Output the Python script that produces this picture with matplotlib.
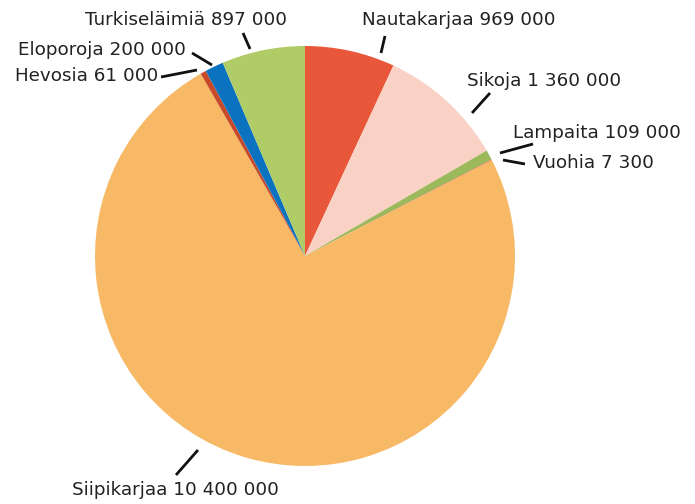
import matplotlib.pyplot as plt

# Kotieläimet Suomessa
labels = ["Nautakarjaa", "Sikoja", "Lampaita", "Vuohia", "Siipikarjaa",
          "Hevosia", "Eloporoja", "Turkiseläimiä"]
values = [969000, 1360000, 109000, 7300, 10400000, 61000, 200000, 897000]
value_labels = ["969 000", "1 360 000", "109 000", "7 300", "10 400 000",
                "61 000", "200 000", "897 000"]
colors = ["#E9573A", "#F9D2C5", "#9BB95A", "#E9573A", "#F7B966",
          "#C8492A", "#0A72BF", "#B0CC66"]

W, H = 695, 504
# label layout in pixels (x left, y centre), leader line ends (x0, y0, x1, y1)
text_pos = [(362, 20), (467, 81), (513, 133), (533, 163), (72, 490),
            (15, 76), (18, 50), (85, 20)]
leaders = [(385, 36, 381, 53), (490, 93, 472, 113), (533, 144, 500, 153),
           (503, 160, 525, 164), (198, 450, 176, 475), (161, 77, 197, 70),
           (192, 53, 212, 65), (243, 33, 250, 49)]

plt.rcParams['font.family'] = ['DejaVu Sans']

fig = plt.figure(figsize=(W / 100, H / 100), dpi=100)
ax = fig.add_axes([0, 0, 1, 1])
ax.pie(values, colors=colors, startangle=90, counterclock=False,
       radius=210, center=(305, H - 256), frame=True,
       wedgeprops=dict(linewidth=0))

for name, val, (tx, ty), (x0, y0, x1, y1) in zip(labels, value_labels, text_pos, leaders):
    ax.plot([x0, x1], [H - y0, H - y1], color="#111111", lw=2, solid_capstyle="butt")
    ax.text(tx, H - ty, f"{name} {val}", ha="left", va="center",
            fontsize=13.2, color="#222222")

ax.set_xlim(0, W)
ax.set_ylim(0, H)
ax.set_aspect("equal")
ax.axis("off")
fig.savefig("out.png", dpi=100)
